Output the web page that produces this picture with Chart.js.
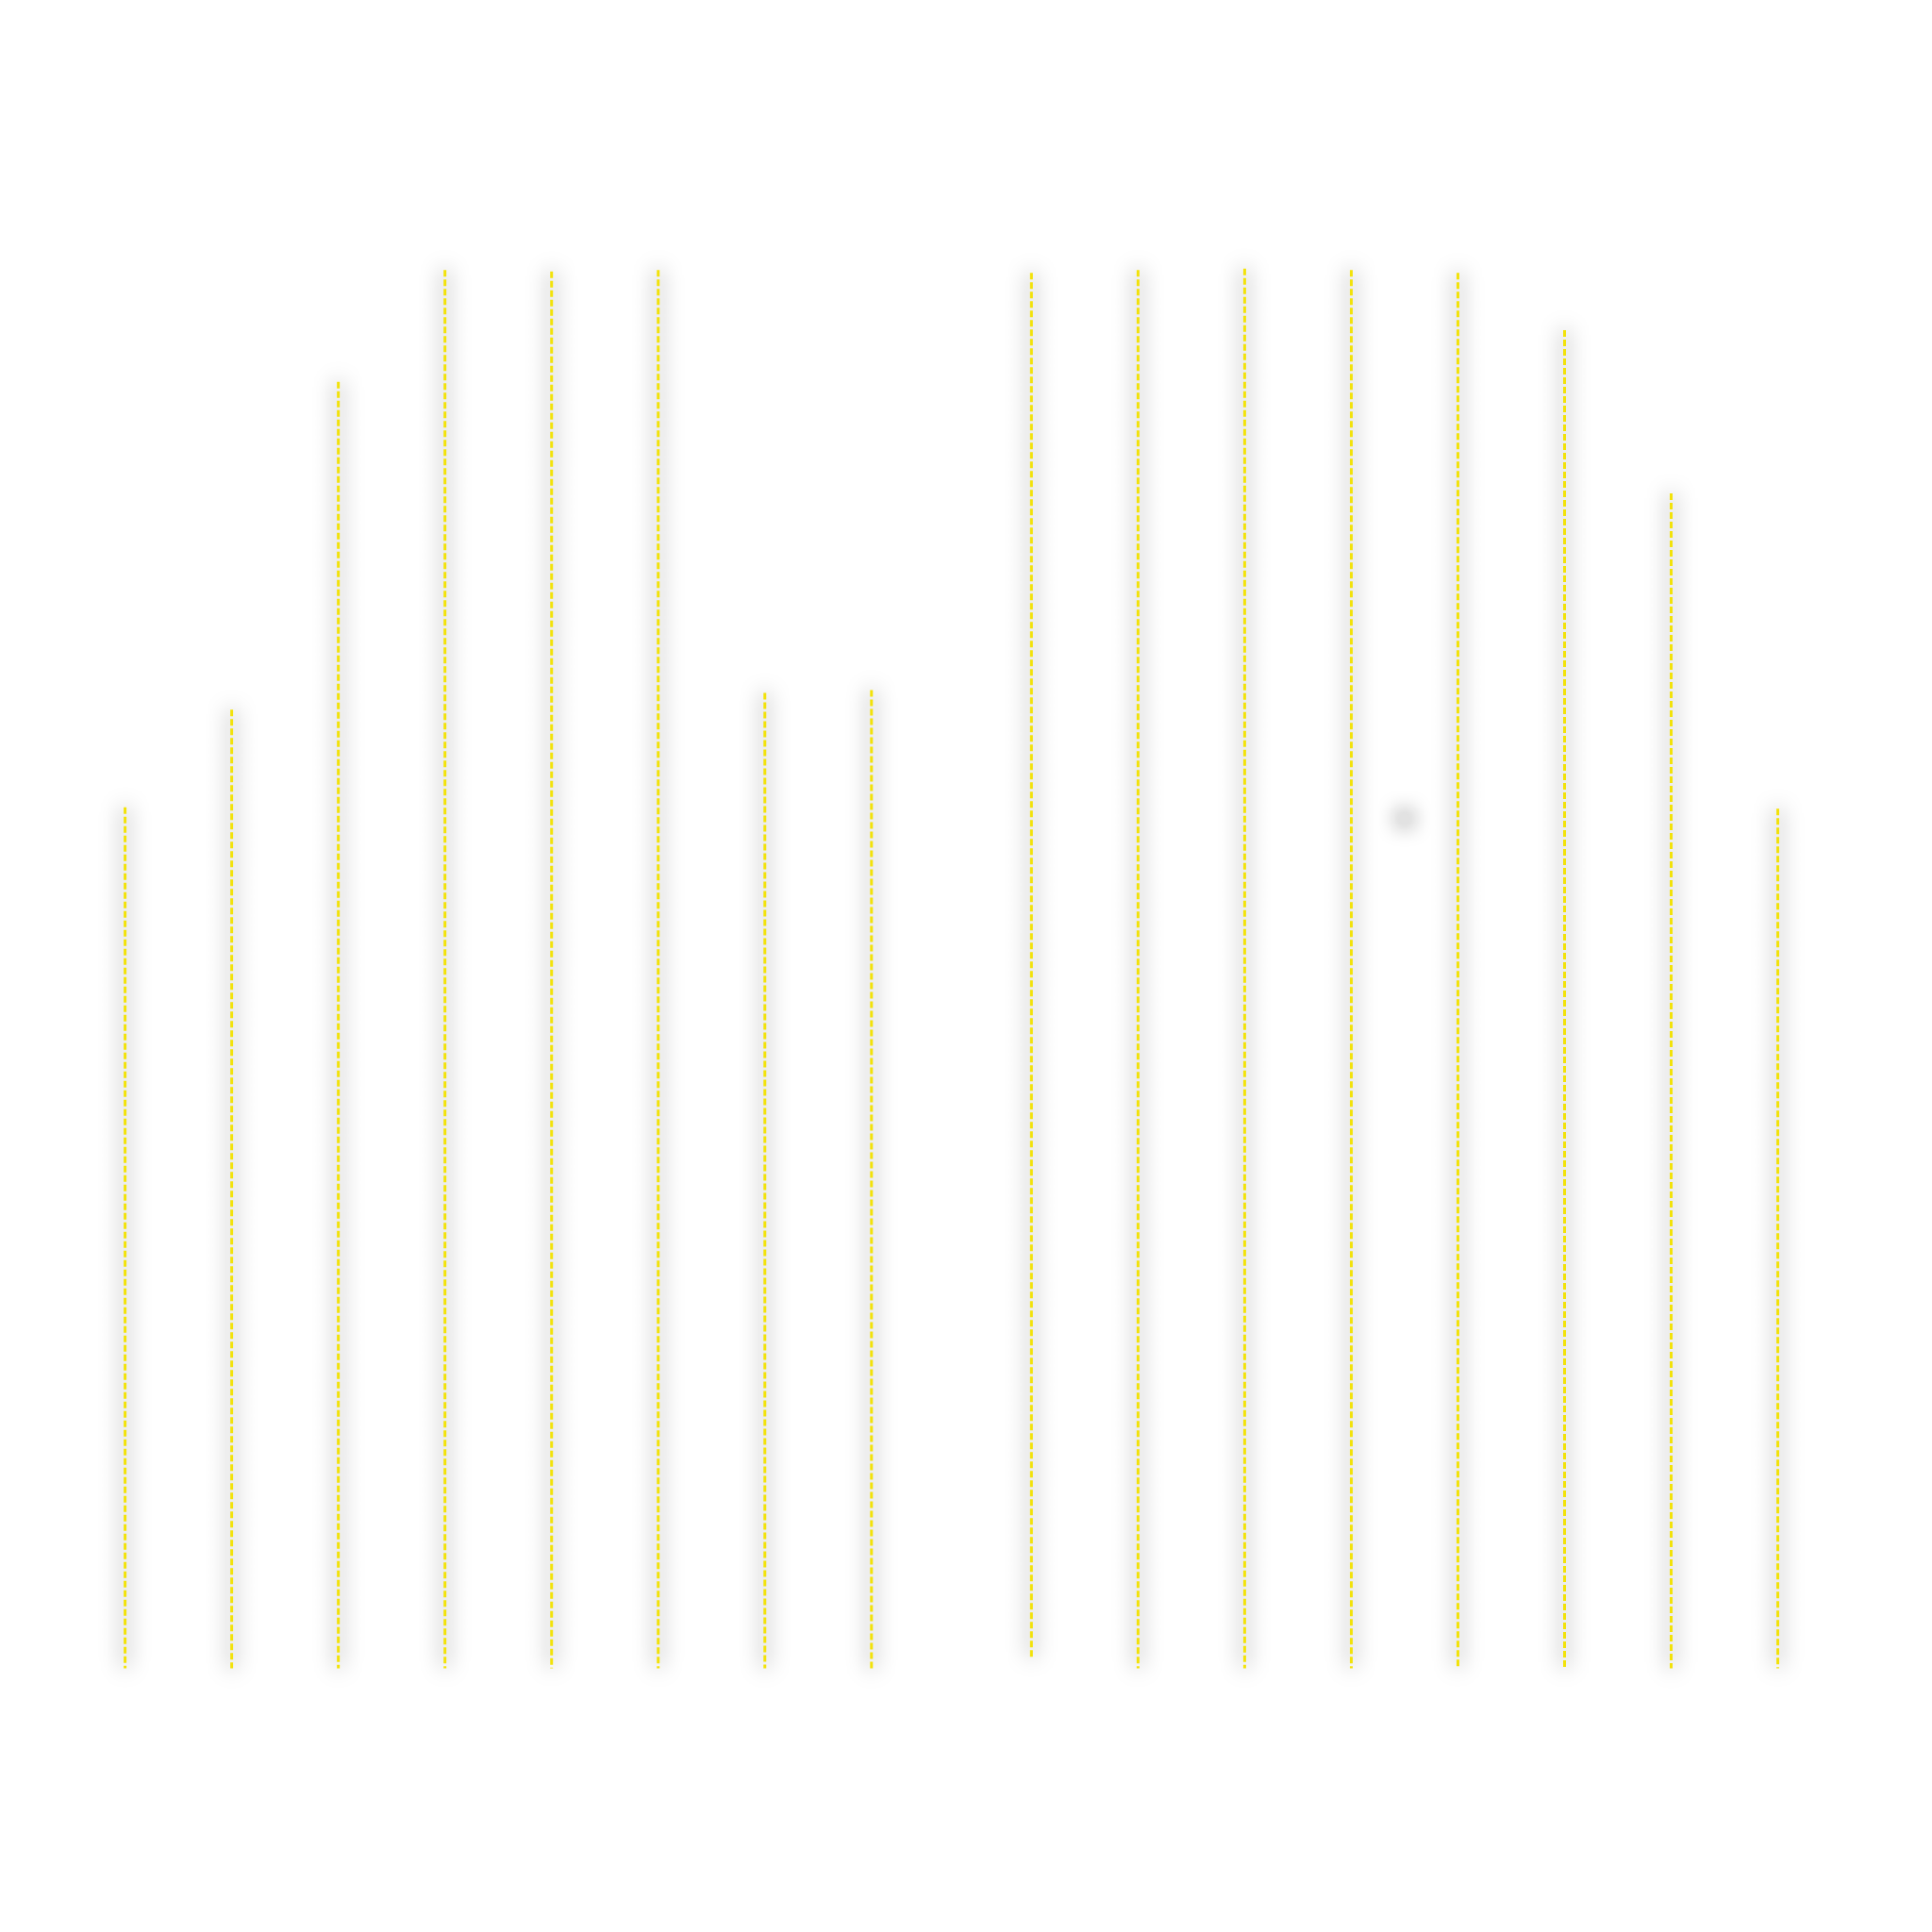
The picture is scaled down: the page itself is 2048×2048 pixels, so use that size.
<!DOCTYPE html>
<html>
<head>
<meta charset="utf-8">
<script src="https://cdn.jsdelivr.net/npm/chart.js@4/dist/chart.umd.min.js"></script>
<style>
  html, body { margin: 0; padding: 0; background: #ffffff; }
  #wrap { width: 2048px; height: 2048px; position: relative; }
</style>
</head>
<body>
<div id="wrap"><canvas id="chart"></canvas></div>
<script>
// posiciones de cada trazo sobre el eje x (en pasos de categoria)
const positions = [0, 1, 2, 3, 4, 5, 6, 7, 8.5, 9.5, 10.5, 11.5, 12.5, 13.5, 14.5, 15.5];
// base y tope de cada trazo vertical
const lows  = [0, 0, 0, 0, 0, 0, 0, 0, 0.7, 0, 0, 0, 0, 0, 0, 0];
const highs = [61.7, 68.7, 92.2, 100.2, 100.1, 100.2, 69.9, 70.1, 100, 100.2, 100.3, 100.2, 100, 95.9, 84.2, 61.6];
// punto suelto (solo se ve su sombra)
const markerX = [12];
const markerY = [60.9];

// armamos los segmentos (de arriba hacia abajo) separados por huecos (null)
const segments = [];
positions.forEach((x, i) => {
  segments.push({ x: x, y: highs[i] });
  segments.push({ x: x, y: lows[i] });
  segments.push({ x: x, y: null });
});
const marker = markerX.map((x, i) => ({ x: x, y: markerY[i] }));

// sombra difusa para todo lo que se dibuja en los datasets
const sombra = {
  id: 'sombra',
  beforeDatasetsDraw(chart) {
    const c = chart.ctx;
    c.save();
    c.shadowColor = 'rgba(0, 0, 0, 0.95)';
    c.shadowBlur = 22;
    c.shadowOffsetX = 0;
    c.shadowOffsetY = 0;
  },
  afterDatasetsDraw(chart) {
    chart.ctx.restore();
  }
};

new Chart(document.getElementById('chart'), {
  type: 'line',
  data: {
    datasets: [{
      data: segments,
      borderColor: '#f2e20a',
      borderWidth: 3,
      borderDash: [7, 3],
      pointRadius: 0,
      spanGaps: false,
      fill: false
    }, {
      data: marker,
      showLine: false,
      pointRadius: 6,
      pointBackgroundColor: '#e2e2e2',
      pointBorderWidth: 0
    }]
  },
  options: {
    responsive: true,
    maintainAspectRatio: false,
    animation: false,
    layout: { padding: 0 },
    plugins: {
      legend: { display: false },
      tooltip: { enabled: false }
    },
    scales: {
      x: { type: 'linear', display: false, min: -1.12, max: 16.893 },
      y: { type: 'linear', display: false, min: -18.48, max: 119.15 }
    }
  },
  plugins: [sombra]
});
</script>
</body>
</html>
